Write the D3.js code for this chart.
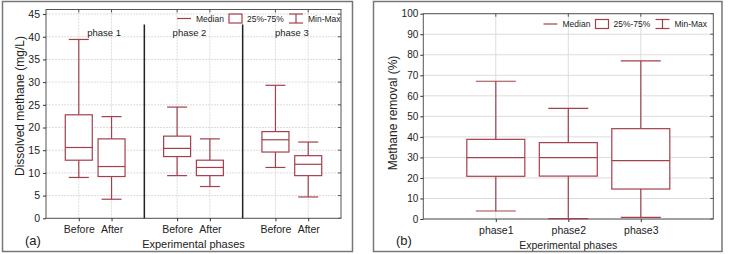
<!DOCTYPE html>
<html>
<head>
<meta charset="utf-8">
<script src="https://cdn.jsdelivr.net/npm/d3@7"></script>
<style>
  body { margin: 0; background: #fff; }
  svg { font-family: Arial, "Liberation Sans", sans-serif; }
  .axis path, .axis line { stroke: #333; }
  .axis text { fill: #222; }
</style>
</head>
<body>
<svg id="chart" width="734" height="254"></svg>
<script>
// panel (a): dissolved methane before / after each phase
const slotsA = ["s0", "p1b", "p1a", "d1", "p2b", "p2a", "d2", "p3b", "p3a", "s9"];
const catsA = ["p1b", "p1a", "p2b", "p2a", "p3b", "p3a"];
const labelsA = ["Before", "After", "Before", "After", "Before", "After"];
const phaseNamesA = ["phase 1", "phase 2", "phase 3"];
const dividersA = ["d1", "d2"];
const minA = [9.0, 4.2, 9.4, 7.0, 11.2, 4.7];
const q1A = [12.8, 9.2, 13.6, 9.4, 14.6, 9.4];
const medA = [15.6, 11.4, 15.4, 11.2, 17.3, 11.9];
const q3A = [22.8, 17.5, 18.1, 12.8, 19.1, 13.8];
const maxA = [39.4, 22.4, 24.5, 17.5, 29.3, 16.8];
const ticksA = [0, 5, 10, 15, 20, 25, 30, 35, 40, 45];

// panel (b): methane removal per phase
const slotsB = ["s0", "phase1", "phase2", "phase3", "s4"];
const catsB = ["phase1", "phase2", "phase3"];
const minB = [3.9, 0.2, 0.8];
const q1B = [20.8, 20.9, 14.6];
const medB = [29.9, 29.9, 28.4];
const q3B = [38.8, 37.2, 44.0];
const maxB = [67.1, 53.9, 77.0];
const ticksB = [0, 10, 20, 30, 40, 50, 60, 70, 80, 90, 100];

const boxColor = "#a3404c";
const svg = d3.select("#chart");

function statsOf(cats, mn, q1, md, q3, mx) {
  return cats.map((c, i) => ({ cat: c, min: mn[i], q1: q1[i], med: md[i], q3: q3[i], max: mx[i] }));
}

function drawBoxes(g, x, y, data, boxW, capW) {
  const b = g.selectAll(".box").data(data).join("g").attr("class", "box")
    .attr("fill", "none").attr("stroke", boxColor).attr("stroke-width", 1.2);
  b.append("line").attr("x1", d => x(d.cat)).attr("x2", d => x(d.cat))
    .attr("y1", d => y(d.max)).attr("y2", d => y(d.q3));
  b.append("line").attr("x1", d => x(d.cat)).attr("x2", d => x(d.cat))
    .attr("y1", d => y(d.q1)).attr("y2", d => y(d.min));
  b.append("line").attr("x1", d => x(d.cat) - capW / 2).attr("x2", d => x(d.cat) + capW / 2)
    .attr("y1", d => y(d.max)).attr("y2", d => y(d.max));
  b.append("line").attr("x1", d => x(d.cat) - capW / 2).attr("x2", d => x(d.cat) + capW / 2)
    .attr("y1", d => y(d.min)).attr("y2", d => y(d.min));
  b.append("rect").attr("x", d => x(d.cat) - boxW / 2).attr("width", boxW)
    .attr("y", d => y(d.q3)).attr("height", d => y(d.q1) - y(d.q3)).attr("fill", "#fff");
  b.append("line").attr("x1", d => x(d.cat) - boxW / 2).attr("x2", d => x(d.cat) + boxW / 2)
    .attr("y1", d => y(d.med)).attr("y2", d => y(d.med));
}

function drawLegend(g, lx, ly, fs) {
  const l = g.append("g").attr("transform", `translate(${lx},${ly})`)
    .attr("font-size", fs).attr("fill", "#222");
  l.append("line").attr("x1", 0).attr("x2", 14).attr("y1", 0).attr("y2", 0)
    .attr("stroke", boxColor).attr("stroke-width", 1.2);
  l.append("text").attr("x", 19).attr("y", 3).text("Median");
  l.append("rect").attr("x", 52).attr("y", -4.5).attr("width", 13).attr("height", 9)
    .attr("fill", "none").attr("stroke", boxColor).attr("stroke-width", 1.2);
  l.append("text").attr("x", 70).attr("y", 3).text("25%-75%");
  const ib = l.append("g").attr("stroke", boxColor).attr("stroke-width", 1.2);
  ib.append("line").attr("x1", 112).attr("x2", 126).attr("y1", -4.5).attr("y2", -4.5);
  ib.append("line").attr("x1", 112).attr("x2", 126).attr("y1", 4.5).attr("y2", 4.5);
  ib.append("line").attr("x1", 119).attr("x2", 119).attr("y1", -4.5).attr("y2", 4.5);
  l.append("text").attr("x", 131).attr("y", 3).text("Min-Max");
}

function drawFrame(g, w, h, dashed, x, y, xcats, yticks) {
  g.append("g").attr("stroke", "#dcdcdc").attr("stroke-dasharray", dashed ? "2,1" : null)
    .call(s => s.selectAll(".hg").data(yticks).join("line")
      .attr("x1", 0).attr("x2", w).attr("y1", d => y(d)).attr("y2", d => y(d)))
    .call(s => s.selectAll(".vg").data(xcats).join("line")
      .attr("y1", 0).attr("y2", h).attr("x1", d => x(d)).attr("x2", d => x(d)));
  g.append("rect").attr("width", w).attr("height", h)
    .attr("fill", "none").attr("stroke", "#555").attr("stroke-width", 1);
  // small ticks on top and right
  g.append("g").attr("stroke", "#555").selectAll("line").data(yticks).join("line")
    .attr("x1", w).attr("x2", w - 3).attr("y1", d => y(d)).attr("y2", d => y(d));
  g.append("g").attr("stroke", "#555").selectAll("line").data(xcats).join("line")
    .attr("y1", 0).attr("y2", 3).attr("x1", d => x(d)).attr("x2", d => x(d));
}

// ---------- panel (a)
svg.append("rect").attr("x", 2.5).attr("y", 1.5).attr("width", 350).attr("height", 250)
  .attr("fill", "none").attr("stroke", "#777").attr("stroke-width", 1.5);

const wA = 295, hA = 208.8;
const gA = svg.append("g").attr("transform", "translate(46,9.5)");
const xA = d3.scalePoint().domain(slotsA).range([0, wA]);
const yA = d3.scaleLinear().domain([0, 46]).range([hA, 0]);

drawFrame(gA, wA, hA, true, xA, yA, catsA, ticksA);

gA.append("g").attr("class", "axis")
  .call(d3.axisLeft(yA).tickValues(ticksA).tickSize(3).tickPadding(3))
  .call(a => a.select(".domain").remove())
  .selectAll("text").attr("font-size", 10.5);
gA.append("g").attr("class", "axis").attr("transform", `translate(0,${hA})`)
  .call(d3.axisBottom(xA).tickValues(catsA).tickSize(3).tickPadding(4)
    .tickFormat(d => labelsA[catsA.indexOf(d)]))
  .call(a => a.select(".domain").remove())
  .selectAll("text").attr("font-size", 10.5);

gA.append("g").selectAll("line").data(dividersA).join("line")
  .attr("x1", d => xA(d)).attr("x2", d => xA(d))
  .attr("y1", yA(42.7)).attr("y2", yA(0))
  .attr("stroke", "#222").attr("stroke-width", 1.5);

const phaseOffsets = [9, -4, 0];
gA.append("g").attr("font-size", 9.5).attr("text-anchor", "middle").attr("fill", "#222")
  .selectAll("text").data(phaseNamesA).join("text")
  .attr("x", (d, i) => (xA(catsA[2 * i]) + xA(catsA[2 * i + 1])) / 2 + phaseOffsets[i])
  .attr("y", 26)
  .text(d => d);

drawBoxes(gA, xA, yA, statsOf(catsA, minA, q1A, medA, q3A, maxA), 27, 20);
drawLegend(svg, 177, 18.5, 8.5);

svg.append("text").attr("transform", "translate(24,106) rotate(-90)")
  .attr("text-anchor", "middle").attr("font-size", 12).attr("fill", "#222")
  .text("Dissolved methane (mg/L)");
svg.append("text").attr("x", 193.5).attr("y", 248).attr("text-anchor", "middle")
  .attr("font-size", 11).attr("fill", "#222").text("Experimental phases");
svg.append("text").attr("x", 25).attr("y", 245).attr("font-size", 13).attr("fill", "#222").text("(a)");

// ---------- panel (b)
svg.append("rect").attr("x", 373.5).attr("y", 1.5).attr("width", 348.5).attr("height", 250)
  .attr("fill", "none").attr("stroke", "#777").attr("stroke-width", 1.5);

const wB = 290, hB = 205.3;
const gB = svg.append("g").attr("transform", "translate(423.3,13.7)");
const xB = d3.scalePoint().domain(slotsB).range([0, wB]);
const yB = d3.scaleLinear().domain([0, 100]).range([hB, 0]);

drawFrame(gB, wB, hB, false, xB, yB, catsB, ticksB);

gB.append("g").attr("class", "axis")
  .call(d3.axisLeft(yB).tickValues(ticksB).tickSize(3).tickPadding(2))
  .call(a => a.select(".domain").remove())
  .selectAll("text").attr("font-size", 10);
gB.append("g").attr("class", "axis").attr("transform", `translate(0,${hB})`)
  .call(d3.axisBottom(xB).tickValues(catsB).tickSize(3).tickPadding(5))
  .call(a => a.select(".domain").remove())
  .selectAll("text").attr("font-size", 10.5);

drawBoxes(gB, xB, yB, statsOf(catsB, minB, q1B, medB, q3B, maxB), 58, 40);
drawLegend(svg, 543.5, 24, 8.5);

svg.append("text").attr("transform", "translate(397,113) rotate(-90)")
  .attr("text-anchor", "middle").attr("font-size", 12).attr("fill", "#222")
  .text("Methane removal (%)");
svg.append("text").attr("x", 568.3).attr("y", 248.5).attr("text-anchor", "middle")
  .attr("font-size", 10.5).attr("fill", "#222").text("Experimental phases");
svg.append("text").attr("x", 396).attr("y", 245).attr("font-size", 13).attr("fill", "#222").text("(b)");
</script>
</body>
</html>
